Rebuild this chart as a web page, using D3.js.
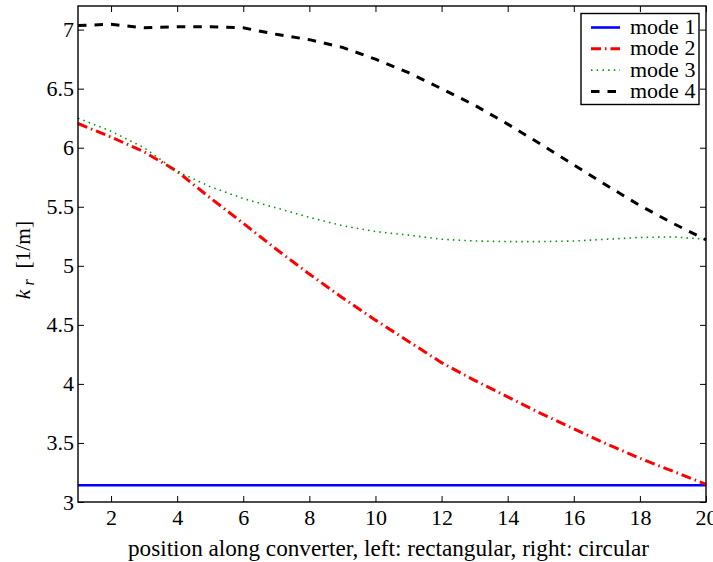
<!DOCTYPE html>
<html>
<head>
<meta charset="utf-8">
<script src="https://cdn.jsdelivr.net/npm/d3@7"></script>
<style>
  html, body { margin: 0; padding: 0; background: #fff; }
  svg { display: block; }
  .serif { font-family: "Liberation Serif"; }
</style>
</head>
<body>
<script>
// Radial wavenumber of the first four modes along the converter
const positions = d3.range(1, 21);
const mode1 = positions.map(() => Math.PI);
const mode2 = [6.205, 6.09, 5.965, 5.80, 5.575, 5.36, 5.14, 4.93, 4.73, 4.54,
               4.36, 4.18, 4.03, 3.89, 3.75, 3.62, 3.49, 3.37, 3.26, 3.15];
const mode3 = [6.25, 6.14, 6.00, 5.80, 5.67, 5.57, 5.49, 5.41, 5.34, 5.29,
               5.26, 5.225, 5.21, 5.205, 5.205, 5.21, 5.225, 5.24, 5.245, 5.225];
const mode4 = [7.035, 7.045, 7.015, 7.025, 7.025, 7.015, 6.96, 6.915, 6.85, 6.75,
               6.635, 6.50, 6.36, 6.20, 6.03, 5.855, 5.68, 5.51, 5.36, 5.22];
const seriesNames = ["mode 1", "mode 2", "mode 3", "mode 4"];
const xTicks = [2, 4, 6, 8, 10, 12, 14, 16, 18, 20];
const yTicks = [3, 3.5, 4, 4.5, 5, 5.5, 6, 6.5, 7];
const xTitle = "position along converter, left: rectangular, right: circular";

const W = 713, H = 562;
const plot = { left: 78, right: 706, top: 6, bottom: 502 };

const styles = [
  { color: "#0000ff", width: 2.6, dash: null },
  { color: "#ff0000", width: 3, dash: "10,4,1.5,4" },
  { color: "#009900", width: 1.6, dash: "1.5,4.2" },
  { color: "#000000", width: 3, dash: "8.5,8" }
];
const series = [mode1, mode2, mode3, mode4];

const svg = d3.select("body").append("svg")
  .attr("width", W).attr("height", H)
  .attr("font-family", "Liberation Serif");

const x = d3.scaleLinear().domain([1, 20]).range([plot.left, plot.right]);
const y = d3.scaleLinear().domain([3, 7.2]).range([plot.bottom, plot.top]);

const tickLen = 6;
const fs = 22;

// Axis frame with inward ticks on all four sides
const axisG = svg.append("g");
const bottomAxis = d3.axisBottom(x).tickValues(xTicks).tickSizeInner(-tickLen).tickSizeOuter(0).tickPadding(7);
const topAxis = d3.axisTop(x).tickValues(xTicks).tickSizeInner(-tickLen).tickSizeOuter(0).tickFormat("");
const leftAxis = d3.axisLeft(y).tickValues(yTicks).tickSizeInner(-tickLen).tickSizeOuter(0).tickPadding(4)
  .tickFormat(d3.format("~g"));
const rightAxis = d3.axisRight(y).tickValues(yTicks).tickSizeInner(-tickLen).tickSizeOuter(0).tickFormat("");

function styleAxis(g) {
  g.attr("font-family", "Liberation Serif").attr("font-size", fs);
  g.select(".domain").remove();
  g.selectAll(".tick line").attr("stroke", "#000").attr("stroke-width", 1);
  g.selectAll(".tick text").attr("class", "serif").attr("fill", "#000");
}
axisG.append("g").attr("transform", `translate(0,${plot.bottom})`).call(bottomAxis).call(styleAxis);
axisG.append("g").attr("transform", `translate(0,${plot.top})`).call(topAxis).call(styleAxis);
axisG.append("g").attr("transform", `translate(${plot.left},0)`).call(leftAxis).call(styleAxis);
axisG.append("g").attr("transform", `translate(${plot.right},0)`).call(rightAxis).call(styleAxis);

// Curves
const line = d3.line().x((d, i) => x(positions[i])).y(d => y(d));
const curves = svg.append("g");
series.forEach((s, k) => {
  curves.append("path")
    .datum(s)
    .attr("d", line)
    .attr("fill", "none")
    .attr("stroke", styles[k].color)
    .attr("stroke-width", styles[k].width)
    .attr("stroke-dasharray", styles[k].dash);
});

// Box
svg.append("rect")
  .attr("x", plot.left).attr("y", plot.top)
  .attr("width", plot.right - plot.left).attr("height", plot.bottom - plot.top)
  .attr("fill", "none").attr("stroke", "#000").attr("stroke-width", 1.4);

// Legend
const leg = { x: 581, y: 13.5, w: 118, h: 91 };
const legendG = svg.append("g");
legendG.append("rect")
  .attr("x", leg.x).attr("y", leg.y).attr("width", leg.w).attr("height", leg.h)
  .attr("fill", "#fff").attr("stroke", "#000").attr("stroke-width", 1.4);
const rowY = d3.scalePoint().domain(seriesNames).range([27.5, 91.5]);
seriesNames.forEach((name, k) => {
  const yy = rowY(name);
  legendG.append("line")
    .attr("x1", 591).attr("x2", 620).attr("y1", yy).attr("y2", yy)
    .attr("stroke", styles[k].color)
    .attr("stroke-width", styles[k].width)
    .attr("stroke-dasharray", styles[k].dash);
  legendG.append("text")
    .attr("class", "serif")
    .attr("x", 630).attr("y", yy + 6.5)
    .attr("font-size", fs)
    .text(name);
});

// Axis titles
svg.append("text")
  .attr("class", "serif")
  .attr("x", (plot.left + plot.right) / 2 - 3.5)
  .attr("y", 556)
  .attr("text-anchor", "middle")
  .attr("font-size", 23.2)
  .text(xTitle);

const yfs = 21.5;
const yTitle = svg.append("text")
  .attr("class", "serif")
  .attr("font-size", yfs)
  .attr("transform", `translate(29.5,260) rotate(-90)`)
  .attr("text-anchor", "middle");
yTitle.append("tspan").attr("font-style", "italic").text("k");
yTitle.append("tspan").attr("font-style", "italic").attr("font-size", yfs * 0.75).attr("dy", 4).text("\u00a0r");
yTitle.append("tspan").attr("dy", -4).text("\u00a0\u00a0[1/m]");
</script>
</body>
</html>
